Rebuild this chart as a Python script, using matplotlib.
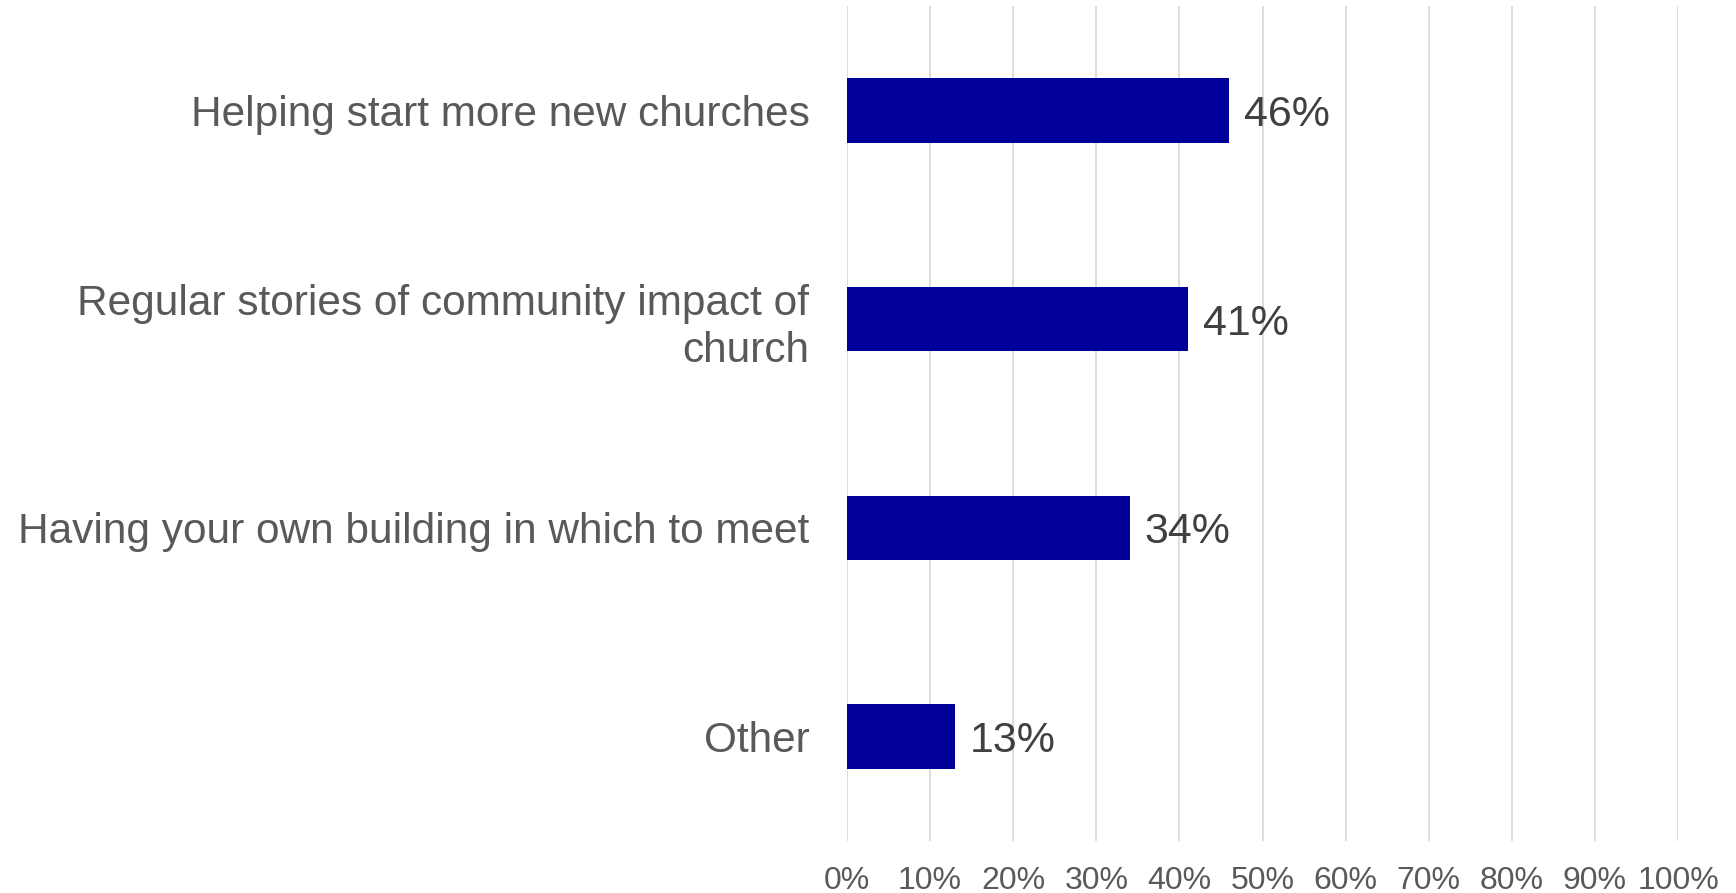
import matplotlib
matplotlib.use("Agg")
import matplotlib.pyplot as plt
from matplotlib import font_manager
from matplotlib.ticker import PercentFormatter

categories = ["Helping start more new churches",
              "Regular stories of community impact of\nchurch",
              "Having your own building in which to meet",
              "Other"]
values = [46, 41, 34, 13]
value_labels = ["46%", "41%", "34%", "13%"]
xticks = list(range(0, 101, 10))

names = {f.name for f in font_manager.fontManager.ttflist}
main_font = "Liberation Sans" if "Liberation Sans" in names else "DejaVu Sans"
tick_font = "Liberation Sans Narrow" if "Liberation Sans Narrow" in names else main_font

fig = plt.figure(figsize=(17.36, 8.93), dpi=100)
ax = fig.add_axes([0.4879, 0.0582, 0.4787, 0.9351])

ypos = list(range(len(categories)))
ax.barh(ypos, values, height=0.31, color="#000099", zorder=3)
ax.set_ylim(len(categories) - 0.5, -0.5)
ax.set_xlim(0, 100)
ax.set_xticks(xticks)
ax.xaxis.set_major_formatter(PercentFormatter(decimals=0))
ax.grid(axis="x", color="#d9d9d9", linewidth=1.3, zorder=0)
for s in ax.spines.values():
    s.set_visible(False)
ax.tick_params(axis="both", length=0)
ax.tick_params(axis="x", pad=18, labelsize=23, labelcolor="#595959")
for lab in ax.get_xticklabels():
    lab.set_fontfamily(tick_font)
ax.set_yticks(ypos)
ax.set_yticklabels(categories, fontsize=30.5, color="#595959", fontfamily=main_font,
                   linespacing=1.25)
ax.tick_params(axis="y", pad=27)

for y, v, t in zip(ypos, values, value_labels):
    ax.annotate(t, xy=(v, y), xytext=(15, 0), textcoords="offset pixels",
                va="center_baseline", ha="left", fontsize=31, color="#404040",
                fontfamily=main_font)

fig.savefig("out.png", dpi=100)
